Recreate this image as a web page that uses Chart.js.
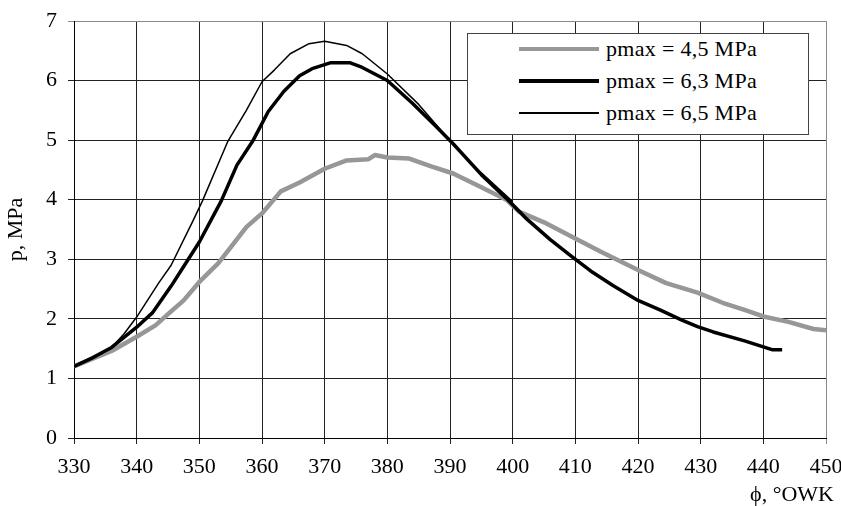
<!DOCTYPE html>
<html>
<head>
<meta charset="utf-8">
<script src="https://cdn.jsdelivr.net/npm/chart.js@4.4.1/dist/chart.umd.min.js"></script>
<style>
  body { margin: 0; background: #fff; }
  #wrap { position: relative; width: 841px; height: 506px; }
  #legend {
    position: absolute; left: 467px; top: 33px; width: 342px; height: 102px;
    box-sizing: border-box; border: 1px solid #444; background: #fff;
    font-family: "Liberation Serif", "DejaVu Serif", serif; font-size: 22px; color: #000;
  }
  .row { position: absolute; left: 0; width: 100%; height: 24px; }
  .sample { position: absolute; left: 51px; width: 80px; top: 50%; }
  .label { position: absolute; left: 138px; top: 0; line-height: 24px; letter-spacing: 0.3px; white-space: nowrap; }
</style>
</head>
<body>
<div id="wrap">
  <canvas id="chart" width="841" height="506"></canvas>
  <div id="legend"></div>
</div>
<script>
// crank angle (deg) and pressure (MPa)
const phi45 = [330, 333, 336, 340, 343, 345, 347.5, 350, 353, 355, 357.5, 360, 363, 366, 370, 373.5, 377, 378, 380, 383.5, 387, 390.5, 395, 399, 401, 405, 410, 414, 420, 424.5, 429.5, 433.5, 437, 440, 444, 448, 450];
const p45 = [1.2, 1.33, 1.46, 1.7, 1.89, 2.08, 2.31, 2.62, 2.93, 3.2, 3.54, 3.77, 4.14, 4.29, 4.52, 4.66, 4.68, 4.75, 4.71, 4.69, 4.56, 4.44, 4.21, 4.0, 3.8, 3.62, 3.35, 3.13, 2.82, 2.6, 2.44, 2.27, 2.15, 2.04, 1.95, 1.83, 1.81];

const phi63 = [330, 333, 336, 340, 342.5, 345.5, 347.5, 350, 353.5, 356, 358.5, 361, 363.5, 366, 368, 371, 374, 376, 380, 384, 387.5, 390.5, 395, 399.5, 402, 406, 409.5, 412.5, 416, 420, 423.5, 427, 429.5, 432, 437, 441.5, 443];
const p63 = [1.2, 1.35, 1.52, 1.86, 2.1, 2.55, 2.88, 3.29, 3.98, 4.58, 4.98, 5.48, 5.82, 6.08, 6.2, 6.3, 6.3, 6.22, 6.0, 5.62, 5.26, 4.94, 4.42, 3.97, 3.7, 3.33, 3.04, 2.8, 2.56, 2.31, 2.15, 1.98, 1.87, 1.78, 1.63, 1.48, 1.48];

const phi65 = [330, 333.5, 336, 338, 340, 343.5, 345.5, 349, 350.5, 354.5, 357.5, 360, 362, 364.5, 367.5, 370, 373.5, 376, 380, 385, 390, 395, 400];
const p65 = [1.2, 1.36, 1.52, 1.75, 2.03, 2.6, 2.9, 3.65, 3.98, 4.97, 5.5, 5.98, 6.18, 6.45, 6.62, 6.66, 6.59, 6.45, 6.11, 5.6, 4.99, 4.45, 3.97];

const seriesLabels = ['pmax = 4,5 MPa', 'pmax = 6,3 MPa', 'pmax = 6,5 MPa'];
const xMin = 330, xMax = 450, xStep = 10;
const yMin = 0, yMax = 7, yStep = 1;
const xTitle = 'ϕ, °OWK';
const yTitle = 'p, MPa';

const FONT = '"Liberation Serif", "DejaVu Serif", serif';

function pts(xs, ys) {
  return xs.map((x, i) => ({ x: x, y: ys[i] }));
}

// x axis title sits under the right end, a little past the plot edge
const xTitlePlugin = {
  id: 'xTitle',
  afterDraw(chart) {
    const c = chart.ctx;
    c.save();
    c.font = '22px ' + FONT;
    c.fillStyle = '#000';
    c.textAlign = 'right';
    c.textBaseline = 'alphabetic';
    c.fillText(xTitle, chart.chartArea.right + 8, 501);
    c.restore();
  }
};

const ctx = document.getElementById('chart').getContext('2d');
const chart = new Chart(ctx, {
  type: 'line',
  data: {
    datasets: [
      { label: seriesLabels[0], data: pts(phi45, p45), borderColor: '#979797', borderWidth: 4.5, order: 3 },
      { label: seriesLabels[1], data: pts(phi63, p63), borderColor: '#000', borderWidth: 3.5, order: 2 },
      { label: seriesLabels[2], data: pts(phi65, p65), borderColor: '#000', borderWidth: 1.5, order: 1 }
    ]
  },
  options: {
    responsive: false,
    animation: false,
    layout: { padding: { left: 0, right: 15, top: 21, bottom: 0 } },
    elements: { point: { radius: 0 }, line: { tension: 0, borderJoinStyle: 'round', borderCapStyle: 'butt' } },
    plugins: { legend: { display: false }, tooltip: { enabled: false } },
    scales: {
      x: {
        type: 'linear', min: xMin, max: xMax,
        afterFit: s => { s.height = 68; s.paddingLeft = 0; s.paddingRight = 0; },
        ticks: { stepSize: xStep, color: '#000', font: { family: FONT, size: 22 }, padding: 10, maxRotation: 0 },
        grid: {
          color: c => c.tick && c.tick.value === xMax ? '#8a8a8a' : '#222',
          lineWidth: 1, tickLength: 6
        },
        border: { color: '#000', width: 1 }
      },
      y: {
        min: yMin, max: yMax,
        afterFit: s => { s.width = 74; s.paddingTop = 0; s.paddingBottom = 0; },
        ticks: { stepSize: yStep, color: '#000', font: { family: FONT, size: 22 }, padding: 11 },
        grid: {
          color: c => c.tick && c.tick.value === yMax ? '#8a8a8a' : '#222',
          lineWidth: 1, tickLength: 6
        },
        border: { color: '#000', width: 1 },
        title: { display: true, text: yTitle, color: '#000', font: { family: FONT, size: 22 }, padding: { top: 3, bottom: 0 } }
      }
    }
  },
  plugins: [xTitlePlugin]
});

// boxed legend built from the datasets
const legend = document.getElementById('legend');
const rowTops = [3, 35, 67];
chart.data.datasets.forEach((ds, i) => {
  const row = document.createElement('div');
  row.className = 'row';
  row.style.top = rowTops[i] + 'px';
  const sample = document.createElement('div');
  sample.className = 'sample';
  sample.style.height = ds.borderWidth + 'px';
  sample.style.marginTop = (-ds.borderWidth / 2) + 'px';
  sample.style.background = ds.borderColor;
  const label = document.createElement('div');
  label.className = 'label';
  label.textContent = ds.label;
  row.appendChild(sample);
  row.appendChild(label);
  legend.appendChild(row);
});
</script>
</body>
</html>
